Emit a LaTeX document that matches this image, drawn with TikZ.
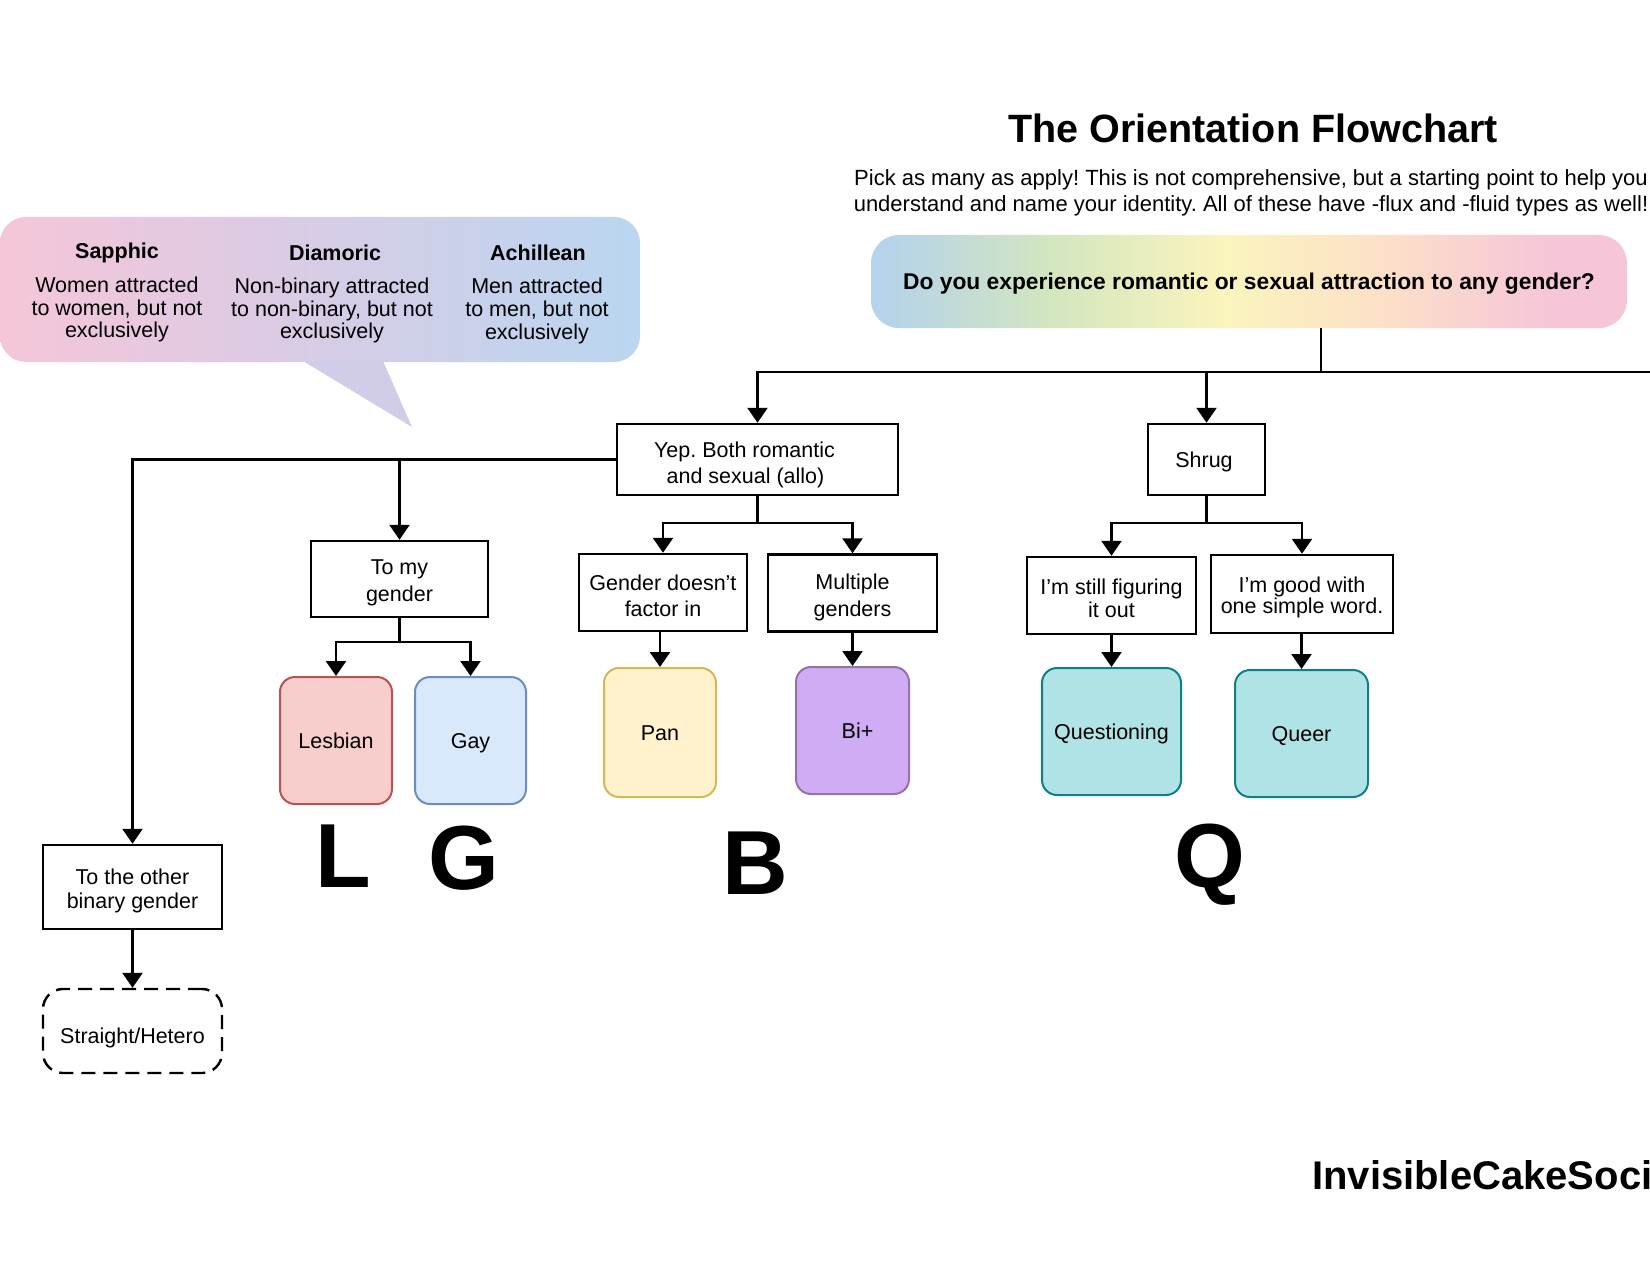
\documentclass[tikz,border=0pt]{standalone}
\usepackage{fontspec}
\setmainfont{Liberation Sans}
\usetikzlibrary{arrows.meta}
\frenchspacing
\definecolor{qblue}{HTML}{B5D3EA}
\definecolor{qgreen}{HTML}{D3E6BF}
\definecolor{qyellow}{HTML}{FBF4BD}
\definecolor{qorange}{HTML}{FCE0C8}
\definecolor{qpink}{HTML}{F6C5D8}
\definecolor{bpink}{HTML}{F5C6D9}
\definecolor{blav}{HTML}{D7CCE6}
\definecolor{bblue}{HTML}{BAD6F0}
\definecolor{btail}{HTML}{D1CCE7}
\definecolor{lesfill}{HTML}{F8CECC}
\definecolor{lesdraw}{HTML}{B85450}
\definecolor{gayfill}{HTML}{DAE8FC}
\definecolor{gaydraw}{HTML}{6C8EBF}
\definecolor{panfill}{HTML}{FFF2CC}
\definecolor{pandraw}{HTML}{D6B656}
\definecolor{bifill}{HTML}{D0ACF5}
\definecolor{bidraw}{HTML}{9673A6}
\definecolor{qfill}{HTML}{B0E3E6}
\definecolor{qdraw}{HTML}{0E8088}
\pgfdeclarehorizontalshading{rainbowq}{100bp}{color(0bp)=(qblue); color(26bp)=(qblue); color(37bp)=(qgreen); color(48.5bp)=(qyellow); color(59bp)=(qorange); color(70bp)=(qpink); color(100bp)=(qpink)}
\newcommand\bxfont{\fontsize{21.5}{26.5}\selectfont}
\newcommand\lift[1]{\rule{0pt}{#1}}
\begin{document}
\begin{tikzpicture}[x=1pt,y=-1pt,
  arr/.style={-{Triangle[width=20pt,length=15pt]}, line width=2.5pt},
  conn/.style={line width=2.5pt},
  box/.style={draw, line width=2.5pt, inner sep=0pt, align=center, font=\bxfont},
  cbox/.style={draw, line width=2pt, rounded corners=15pt, inner sep=0pt, align=center, font=\bxfont, text height=15.5pt, text depth=0pt},
  big/.style={font=\fontsize{91}{91}\selectfont\bfseries, inner sep=0pt, anchor=base},
  btitle/.style={font=\fontsize{21.5}{22}\selectfont\bfseries, inner sep=0pt, anchor=base},
  btxt/.style={align=center, inner sep=0pt, font=\fontsize{21.5}{22.75}\selectfont}]
\useasboundingbox (0,0) rectangle (1650,1284);

% title and subtitle
\node[anchor=base, inner sep=0pt, font=\fontsize{39.5}{40}\selectfont\bfseries] (title) at (1253,143) {The Orientation Flowchart};
\node[align=center, inner sep=0pt, font=\fontsize{22}{25.5}\selectfont] (sub) at (1251,192.8) {Pick as many as apply! This is not comprehensive, but a starting point to help you\\understand and name your identity. All of these have -flux and -fluid types as well!};

% speech bubble
\shade[left color=bpink, right color=bblue, middle color=blav, rounded corners=26pt] (0,217) rectangle (640,362);
\fill[btail] (303,361) -- (383,361) -- (412,427) -- cycle;
\node[btitle] (saph) at (117,259) {Sapphic};
\node[btxt] (saphd) at (117,309.5) {Women attracted\\to women, but not\\exclusively};
\node[btitle] (diam) at (335,260.5) {Diamoric};
\node[btxt] (diamd) at (332,310.5) {Non-binary attracted\\to non-binary, but not\\exclusively};
\node[btitle] (achi) at (538,260.5) {Achillean};
\node[btxt] (achid) at (537,311) {Men attracted\\to men, but not\\exclusively};

% question
\node[shade, shading=rainbowq, rounded corners=28pt, minimum width=756pt, minimum height=93pt, inner sep=0pt, text height=17pt, text depth=0pt, font=\fontsize{22.8}{24}\selectfont\bfseries] (q) at (1249,281.5) {Do you experience romantic or sexual attraction to any gender?};

% boxes
\node[box, minimum width=281pt, minimum height=71pt] (yep) at (757.5,459.5) {\lift{26.5pt}Yep. Both romantic\hspace*{26pt}\\and sexual (allo)\hspace*{24pt}};
\node[box, minimum width=117pt, minimum height=71pt, text height=15.5pt, text depth=0pt] (shrug) at (1206.5,459.5) {Shrug\hspace*{5pt}};
\node[box, minimum width=177pt, minimum height=76pt] (tomy) at (399.5,579) {\lift{22.5pt}To my\\gender};
\node[box, minimum width=168pt, minimum height=77pt] (gdf) at (663,592.5) {\lift{22.5pt}Gender doesn’t\\factor in};
\node[box, minimum width=169pt, minimum height=77pt] (mult) at (852.5,593) {\lift{24pt}Multiple\\genders};
\node[box, minimum width=169pt, minimum height=77pt, font=\fontsize{21.5}{23}\selectfont] (still) at (1111.5,595.5) {\lift{21pt}I’m still figuring\\it out};
\node[box, minimum width=182pt, minimum height=78pt, font=\fontsize{21.5}{20}\selectfont] (good) at (1302,594) {\lift{23pt}I’m good with\\one simple word.};
\node[box, minimum width=179pt, minimum height=84pt, font=\fontsize{21.5}{24}\selectfont] (other) at (132.5,887) {\lift{24pt}To the other\\binary gender};
\node[draw, dash pattern=on 14pt off 8pt, line width=2.4pt, rounded corners=20pt, inner sep=0pt, font=\bxfont, text height=24pt, text depth=0pt, minimum width=179pt, minimum height=84pt] (straight) at (132.5,1031) {Straight/Hetero};

% coloured results
\node[cbox, fill=lesfill, draw=lesdraw, minimum width=112pt, minimum height=127pt] (les) at (336,740.5) {Lesbian};
\node[cbox, fill=gayfill, draw=gaydraw, minimum width=111pt, minimum height=127pt] (gay) at (470.5,740.5) {Gay};
\node[cbox, fill=panfill, draw=pandraw, minimum width=112pt, minimum height=129pt] (pan) at (660,732.5) {Pan};
\node[cbox, fill=bifill, draw=bidraw, minimum width=113pt, minimum height=127pt] (bi) at (852.5,730.5) {\hspace*{10pt}Bi+};
\node[cbox, fill=qfill, draw=qdraw, minimum width=139pt, minimum height=127pt] (ques) at (1111.5,731.5) {Questioning};
\node[cbox, fill=qfill, draw=qdraw, minimum width=133pt, minimum height=127pt] (queer) at (1301.5,733.5) {Queer};

% letters
\node[big] (L) at (343,887) {L};
\node[big] (G) at (464,889) {G};
\node[big] (B) at (755,894) {B};
\node[big] (Q) at (1210,887) {Q};

% footer
\node[anchor=base west, inner sep=0pt, font=\fontsize{40}{40}\selectfont\bfseries] (foot) at (1312,1189) {InvisibleCakeSoci};

% connectors
\coordinate (qj) at (1321,372);
\coordinate (qe) at (1650,372);
\draw[conn] (q.south -| qj) -- (qj) -- (qe);
\draw[arr] (qj) -| (yep.north);
\draw[arr] (qj -| shrug.north) -- (shrug.north);
\draw[arr] (yep.west) -| (other.north);
\draw[arr] (yep.west -| tomy.north) -- (tomy.north);
\coordinate (yj) at (757.5,523);
\draw[conn] (yep.south) -- (yj);
\draw[arr] (yj) -| (gdf.north);
\draw[arr] (yj) -| (mult.north);
\coordinate (tj) at (399.5,642);
\draw[conn] (tomy.south) -- (tj);
\draw[arr] (tj) -| (les.north);
\draw[arr] (tj) -| (gay.north);
\draw[arr] (gdf.south -| pan.north) -- (pan.north);
\draw[arr] (mult.south -| bi.north) -- (bi.north);
\coordinate (sj) at (1206.5,523);
\draw[conn] (shrug.south) -- (sj);
\draw[arr] (sj) -| (still.north);
\draw[arr] (sj) -| (good.north);
\draw[arr] (still.south) -- (ques.north);
\draw[arr] (good.south -| queer.north) -- (queer.north);
\draw[arr] (other.south) -- (straight.north);
\end{tikzpicture}
\end{document}
